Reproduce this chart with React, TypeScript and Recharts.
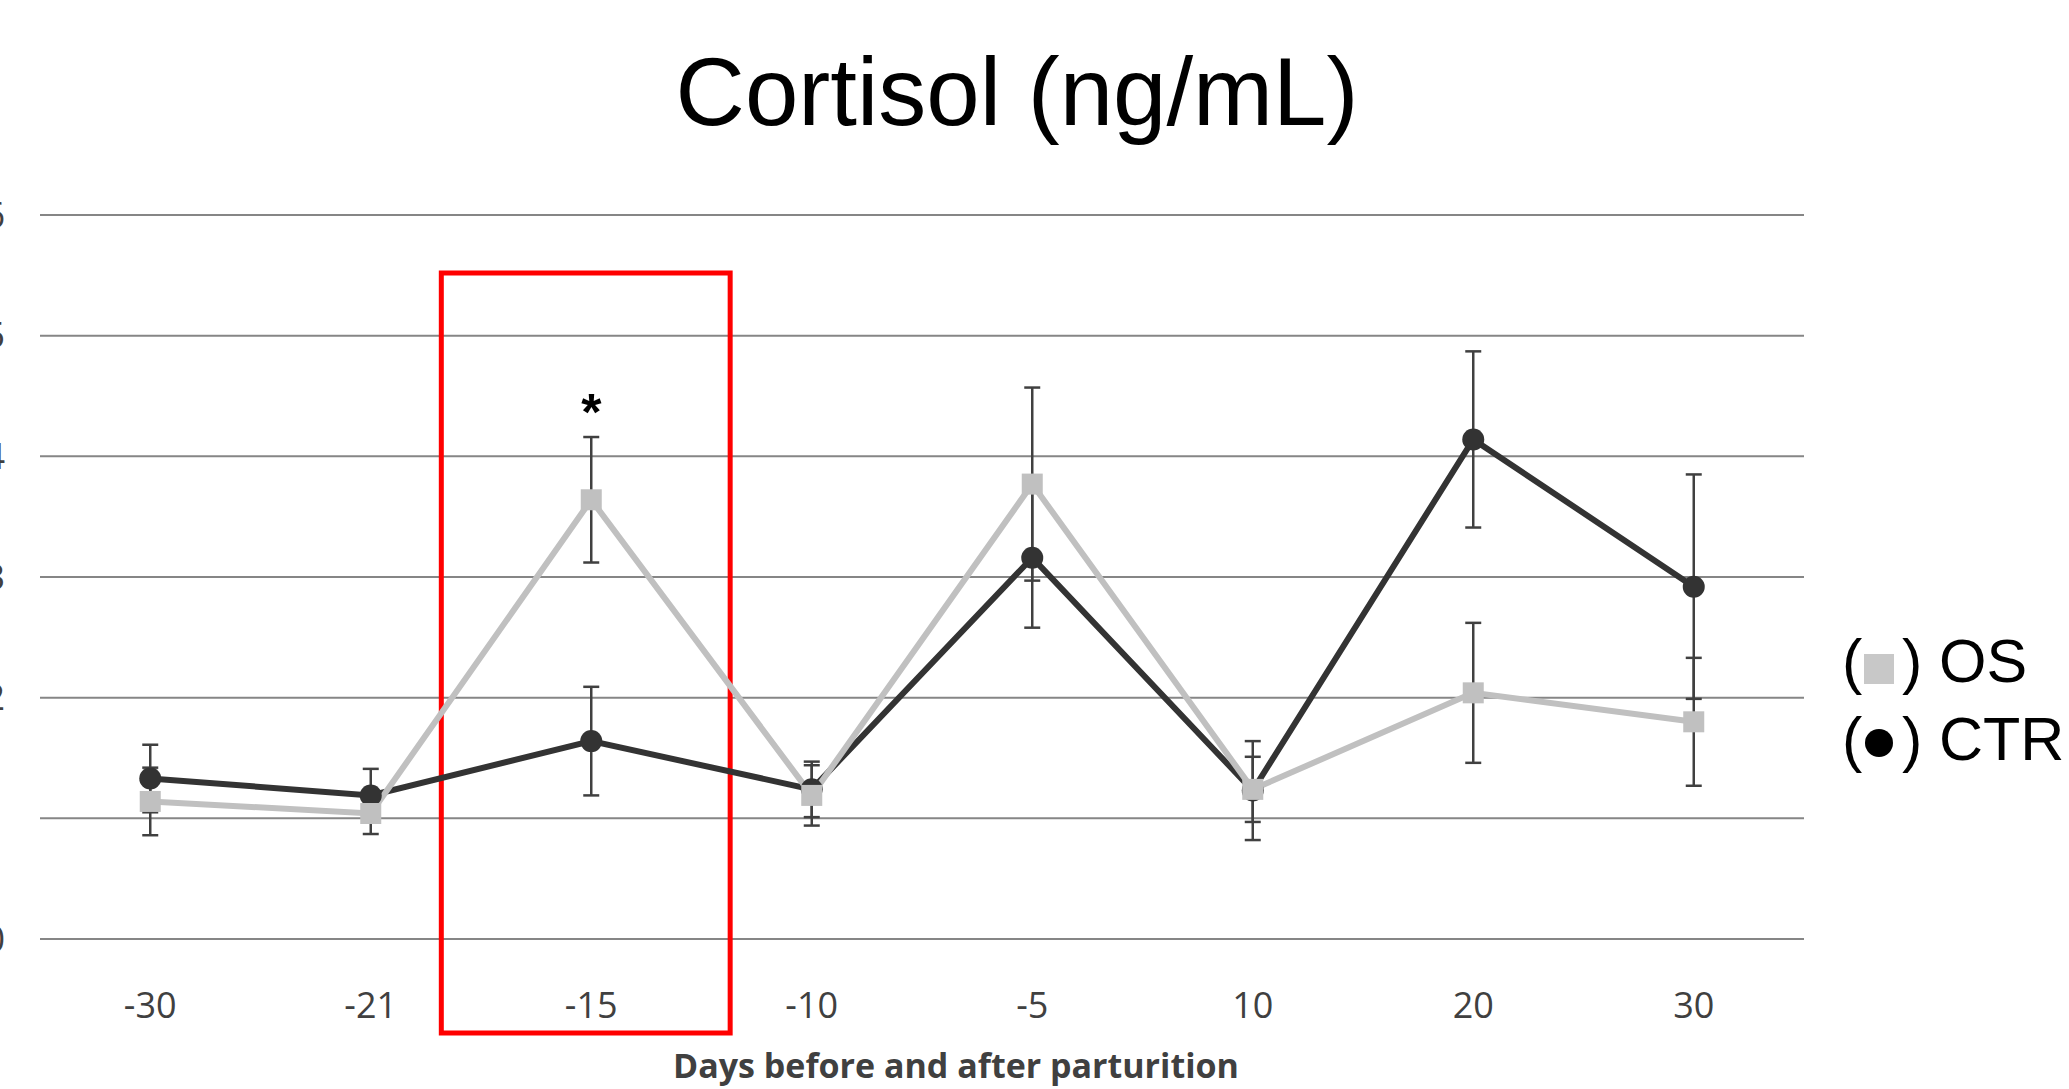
import React from 'react';
import {
  LineChart,
  Line,
  XAxis,
  YAxis,
  CartesianGrid,
  ErrorBar,
  ReferenceArea,
  ReferenceDot,
} from 'recharts';

const days = ['-30', '-21', '-15', '-10', '-5', '10', '20', '30'];
const osValues = [1.14, 1.04, 3.64, 1.19, 3.77, 1.24, 2.04, 1.8];
const osErrors = [0.28, 0.17, 0.52, 0.25, 0.8, 0.27, 0.58, 0.53];
const ctrValues = [1.33, 1.19, 1.64, 1.24, 3.16, 1.23, 4.14, 2.92];
const ctrErrors = [0.28, 0.22, 0.45, 0.23, 0.58, 0.41, 0.73, 0.93];
const yTicks = [0, 1, 2, 3, 4, 5, 6];
const highlightDay = '-15';
const starValue = 4.37;

const data = days.map((d, i) => ({
  idx: i,
  day: d,
  os: osValues[i],
  osErr: osErrors[i],
  ctr: ctrValues[i],
  ctrErr: ctrErrors[i],
}));
const hi = days.indexOf(highlightDay);

const OS_COLOR = '#c0c0c0';
const CTR_COLOR = '#333333';

const SquareDot = (props: any) => {
  const { cx, cy, index } = props;
  if (cx == null || cy == null) return null;
  return <rect key={`sq-${index}`} x={cx - 10.5} y={cy - 10.5} width={21} height={21} fill={OS_COLOR} />;
};

export default function App() {
  return (
    <div style={{ position: 'fixed', left: 0, top: 0, width: 2069, height: 1089, background: '#fff' }}>
      <LineChart
        width={2069}
        height={1089}
        data={data}
        margin={{ top: 215, right: 265, bottom: 90, left: 0 }}
      >
        <CartesianGrid vertical={false} stroke="#868686" strokeWidth={2} />
        <XAxis
          type="number"
          dataKey="idx"
          domain={[-0.5, 7.5]}
          ticks={data.map((d) => d.idx)}
          tickFormatter={(v: number) => days[v]}
          interval={0}
          axisLine={false}
          tickLine={false}
          tickSize={6}
          tickMargin={47}
          height={60}
          tick={{ fontSize: 36, fill: '#404040', fontFamily: 'Open Sans' }}
        />
        <YAxis
          domain={[0, 6]}
          ticks={yTicks}
          width={40}
          axisLine={false}
          tickLine={false}
          tickSize={6}
          tickMargin={29}
          tick={{ fontSize: 36, fill: '#404040', fontFamily: 'Open Sans' }}
        />
        <ReferenceArea
          x1={hi - 0.68}
          x2={hi + 0.63}
          y1={-0.78}
          y2={5.52}
          ifOverflow="visible"
          fill="none"
          fillOpacity={0}
          stroke="#ff0000"
          strokeWidth={5}
        />
        <Line
          type="linear"
          dataKey="ctr"
          stroke={CTR_COLOR}
          strokeWidth={6}
          dot={{ r: 11, fill: CTR_COLOR, stroke: 'none' }}
          activeDot={false}
          isAnimationActive={false}
        >
          <ErrorBar dataKey="ctrErr" direction="y" width={8} stroke="#404040" strokeWidth={2.5} />
        </Line>
        <Line
          type="linear"
          dataKey="os"
          stroke={OS_COLOR}
          strokeWidth={6}
          dot={SquareDot}
          activeDot={false}
          isAnimationActive={false}
        >
          <ErrorBar dataKey="osErr" direction="y" width={8} stroke="#404040" strokeWidth={2.5} />
        </Line>
        <ReferenceDot
          x={hi}
          y={starValue}
          r={0}
          fill="none"
          stroke="none"
          ifOverflow="visible"
          label={{ value: '*', position: 'center', fontSize: 52, fontWeight: 700, fill: '#000', fontFamily: 'Liberation Sans' }}
        />
      </LineChart>
      <svg
        width={2069}
        height={1089}
        style={{ position: 'absolute', left: 0, top: 0, pointerEvents: 'none' }}
      >
        <text x={1017} y={125} textAnchor="middle" fontFamily="Liberation Sans" fontSize={96} fill="#000">
          Cortisol (ng/mL)
        </text>
        <text x={956} y={1078} textAnchor="middle" fontFamily="Open Sans" fontWeight={700} fontSize={34} fill="#404040">
          Days before and after parturition
        </text>
        <g fontFamily="Liberation Sans" fontSize={61} fill="#000">
          <text x={1842} y={682}>(</text>
          <rect x={1864} y={654} width={30} height={30} fill="#c8c8c8" />
          <text x={1902} y={682}>)</text>
          <text x={1939} y={682}>OS</text>
          <text x={1842} y={760}>(</text>
          <circle cx={1879} cy={743} r={14} fill="#000" />
          <text x={1902} y={760}>)</text>
          <text x={1939} y={760}>CTR</text>
        </g>
      </svg>
    </div>
  );
}
